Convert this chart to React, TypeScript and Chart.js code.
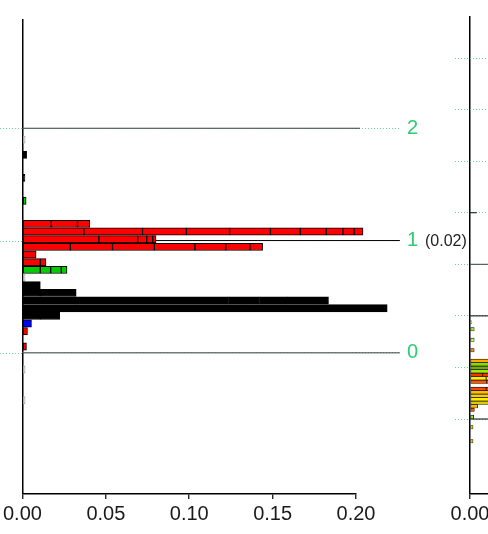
import React, { useEffect, useRef } from 'react';
import { Chart, registerables } from 'chart.js';
Chart.register(...registerables);

const FONT = "'Liberation Sans', Arial, Helvetica, sans-serif";
const GREEN = '#2ecc71';
const DOT_GREEN = '#62d69e';
const GRAY_LINE = '#3a4040';

// ---------- left panel data ----------
const xTicks = [0, 0.05, 0.1, 0.15, 0.2];
const leftRows = [16, 18, 21, 24, 27, 28, 29, 30, 31, 32, 33, 34, 35, 36, 37, 38, 39, 40, 41, 43, 46, 50];
const leftRowColors = ['#cccccc', '#000000', '#000000', '#00cc00', '#ff0000', '#ff0000', '#ff0000', '#ff0000', '#ff0000', '#ff0000', '#00cc00', '#cccccc', '#000000', '#000000', '#000000', '#000000', '#000000', '#0000ff', '#ff0000', '#ff0000', '#cccccc', '#cccccc'];
const leftSegments = [
  [0.0016],
  [0.0025],
  [0.0015],
  [0.0022],
  [0.0173, 0.0157, 0.0074],
  [0.0368, 0.0352, 0.0263, 0.0259, 0.0245, 0.0179, 0.0155, 0.0101, 0.0066, 0.0054],
  [0.0458, 0.0233, 0.0054, 0.0036, 0.002],
  [0.0287, 0.0253, 0.0251, 0.0243, 0.0185, 0.0145, 0.0076],
  [0.0082],
  [0.0107, 0.0034],
  [0.0107, 0.0062, 0.0064, 0.0034],
  [0.0016],
  [0.0107],
  [0.0107, 0.0215],
  [0.0321, 0.0915, 0.0185, 0.0167, 0.0167, 0.008],
  [0.0321, 0.1, 0.05, 0.0366],
  [0.0107, 0.0116],
  [0.0054],
  [0.003],
  [0.0024],
  [0.0016],
  [0.0016],
];
const leftLevels = [0, 1, 2];
const leftLevelEnds = [0.2263, 0.2263, 0.2024];
const leftLevelColors = [GRAY_LINE, '#000000', GRAY_LINE];
const leftLevelNotes = ['', '(0.02)', ''];

// ---------- right panel data ----------
const rightRows = [88, 90, 93, 96, 99, 100, 101, 102, 103, 104, 105, 107, 108, 109, 110, 111, 112, 113, 115, 118, 122];
const rightRowColors = ['#ccdd00', '#99ee00', '#ccff33', '#ff8800', '#ffaa00', '#88dd00', '#77aa00', '#99ee00', '#ff3300', '#ffee00', '#ff5500', '#ff4400', '#ffbb00', '#ffcc00', '#ffee00', '#ddcc00', '#ffbb00', '#ff5500', '#99ee00', '#ffdd00', '#ffdd00'];
const rightSegments = [
  [0.0008],
  [0.0025],
  [0.0025],
  [0.0025],
  [0.05, 0.04],
  [0.04, 0.03],
  [0.03, 0.03],
  [0.035, 0.02],
  [0.0076, 0.03],
  [0.0096, 0.03],
  [0.01, 0.02],
  [0.0096, 0.02],
  [0.03, 0.04],
  [0.04, 0.03],
  [0.05, 0.03],
  [0.02, 0.02],
  [0.0046],
  [0.0026],
  [0.0022],
  [0.0018],
  [0.0018],
];
const rightLevels = [0, 1, 2, 3, 4, 5, 6, 7];
const rightLineLevels = [0, 2, 3, 4];
const rightLevelEnds = [0.3, 0.3, 0.3, 0.004];
const rightLevelColors = ['#000000', '#000000', GRAY_LINE, '#000000'];

function barDatasets(rows: number[], colors: string[], segs: number[][], bw: number, thick: number) {
  const maxSeg = Math.max(...segs.map((s) => s.length));
  const out: any[] = [];
  for (let k = 0; k < maxSeg; k++) {
    out.push({
      type: 'bar',
      stack: 'bars',
      order: 1,
      yAxisID: 'y',
      xAxisID: 'x',
      data: rows.map((r, i) => ({ y: r, x: segs[i][k] !== undefined ? segs[i][k] : null })),
      backgroundColor: colors,
      borderColor: colors.map((c) => (c === '#cccccc' ? '#aaaaaa' : '#000000')),
      borderWidth: bw,
      borderSkipped: false,
      barThickness: thick,
      clip: false,
    });
  }
  return out;
}

function lineDatasets(levels: number[], ends: number[], colors: string[]) {
  return levels.map((l, i) => ({
    type: 'line',
    order: 2,
    yAxisID: 'yL',
    xAxisID: 'x',
    data: [
      { x: 0, y: l },
      { x: ends[i], y: l },
    ],
    borderColor: colors[i],
    borderWidth: 1,
    pointRadius: 0,
    fill: false,
    clip: false,
  }));
}

const xScale = (padding: number) => ({
  type: 'linear',
  position: 'bottom',
  min: 0,
  max: 0.2,
  offset: false,
  afterBuildTicks: (s: any) => {
    s.ticks = xTicks.map((v) => ({ value: v }));
  },
  afterFit: (s: any) => {
    s.height = 40;
  },
  ticks: {
    color: '#1a1a1a',
    font: { family: FONT, size: 20 },
    padding,
    maxRotation: 0,
    callback: (v: any) => Number(v).toFixed(2),
  },
  grid: {
    offset: false,
    color: (ctx: any) => (ctx.tick && ctx.tick.value === 0 ? '#000000' : 'rgba(0,0,0,0)'),
    lineWidth: 1.5,
    tickColor: '#000000',
    tickLength: 5,
    tickWidth: 1.2,
    drawOnChartArea: true,
  },
  border: { display: true, color: '#000000', width: 1.5 },
});

const leftDecor = {
  id: 'leftDecor',
  beforeDatasetsDraw(chart: any) {
    const s = chart.scales.yL;
    const a = chart.chartArea;
    const ctx = chart.ctx;
    ctx.save();
    ctx.strokeStyle = DOT_GREEN;
    ctx.lineWidth = 1;
    ctx.setLineDash([1, 2]);
    leftLevels.forEach((l) => {
      const y = Math.round(s.getPixelForValue(l)) + 0.5;
      ctx.beginPath();
      ctx.moveTo(0, y);
      ctx.lineTo(a.left, y);
      ctx.stroke();
    });
    ctx.restore();
  },
  afterDraw(chart: any) {
    const s = chart.scales.yL;
    const ctx = chart.ctx;
    ctx.save();
    ctx.fillStyle = '#222222';
    ctx.font = `16px ${FONT}`;
    ctx.textBaseline = 'middle';
    ctx.textAlign = 'left';
    leftLevels.forEach((l, i) => {
      if (leftLevelNotes[i]) ctx.fillText(leftLevelNotes[i], s.right + 7, s.getPixelForValue(l) + 1);
    });
    ctx.restore();
  },
};

function LeftChart() {
  const ref = useRef<HTMLCanvasElement>(null);
  useEffect(() => {
    const chart = new Chart(ref.current as HTMLCanvasElement, {
      type: 'bar',
      data: {
        datasets: [
          ...barDatasets(leftRows, leftRowColors, leftSegments, 1, 7.2),
          ...lineDatasets(leftLevels, leftLevelEnds, leftLevelColors),
        ] as any,
      },
      options: {
        indexAxis: 'y',
        animation: false,
        responsive: false,
        events: [],
        layout: { padding: { left: 21, top: 16, right: 52, bottom: 0 } },
        plugins: { legend: { display: false }, tooltip: { enabled: false } },
        scales: {
          x: xScale(3),
          y: {
            type: 'linear',
            min: -0.2,
            max: 61.77,
            reverse: true,
            display: false,
            offset: false,
            grid: { offset: false },
          },
          yL: {
            type: 'linear',
            position: 'right',
            min: -1.257,
            max: 2.973,
            offset: false,
            afterBuildTicks: (s: any) => {
              s.ticks = leftLevels.map((v) => ({ value: v }));
            },
            afterFit: (s: any) => {
              s.width = 62;
            },
            ticks: {
              color: GREEN,
              font: { family: FONT, size: 20 },
              padding: 7,
              callback: (v: any) => String(v),
            },
            grid: {
              offset: false,
              color: DOT_GREEN,
              drawOnChartArea: true,
              tickLength: 44,
              tickColor: DOT_GREEN,
              tickBorderDash: [1, 2],
              lineWidth: 1,
            },
            border: { display: false, dash: [1, 2] },
          },
        } as any,
      },
      plugins: [leftDecor],
    } as any);
    return () => chart.destroy();
  }, []);
  return (
    <canvas
      ref={ref}
      width={470}
      height={534}
      style={{ position: 'absolute', left: 0, top: 0, width: 470, height: 534 }}
    />
  );
}

function RightChart() {
  const ref = useRef<HTMLCanvasElement>(null);
  useEffect(() => {
    const chart = new Chart(ref.current as HTMLCanvasElement, {
      type: 'bar',
      data: {
        datasets: [
          ...barDatasets(rightRows, rightRowColors, rightSegments, 0.7, 3.4),
          ...lineDatasets(rightLineLevels, rightLevelEnds, rightLevelColors),
        ] as any,
      },
      options: {
        indexAxis: 'y',
        animation: false,
        responsive: false,
        events: [],
        layout: { padding: { left: 15, top: 16, right: 55, bottom: 0 } },
        plugins: { legend: { display: false }, tooltip: { enabled: false } },
        scales: {
          x: xScale(3),
          y: {
            type: 'linear',
            min: 0,
            max: 136.57,
            reverse: true,
            display: false,
            offset: false,
            grid: { offset: false },
          },
          yL: {
            type: 'linear',
            position: 'left',
            min: -1.454,
            max: 7.815,
            offset: false,
            afterBuildTicks: (s: any) => {
              s.ticks = rightLevels.map((v) => ({ value: v }));
            },
            afterFit: (s: any) => {
              s.width = 15;
            },
            ticks: { display: false },
            grid: {
              offset: false,
              color: DOT_GREEN,
              drawOnChartArea: true,
              tickLength: 15,
              tickColor: DOT_GREEN,
              tickBorderDash: [1, 2],
              lineWidth: 1,
            },
            border: { display: false, dash: [1, 2] },
          },
        } as any,
      },
    } as any);
    return () => chart.destroy();
  }, []);
  return (
    <canvas
      ref={ref}
      width={420}
      height={534}
      style={{ position: 'absolute', left: 440, top: 0, width: 420, height: 534 }}
    />
  );
}

export default function App() {
  return (
    <div
      style={{
        position: 'absolute',
        left: 0,
        top: 0,
        width: 488,
        height: 534,
        overflow: 'hidden',
        background: '#ffffff',
      }}
    >
      <LeftChart />
      <RightChart />
    </div>
  );
}
